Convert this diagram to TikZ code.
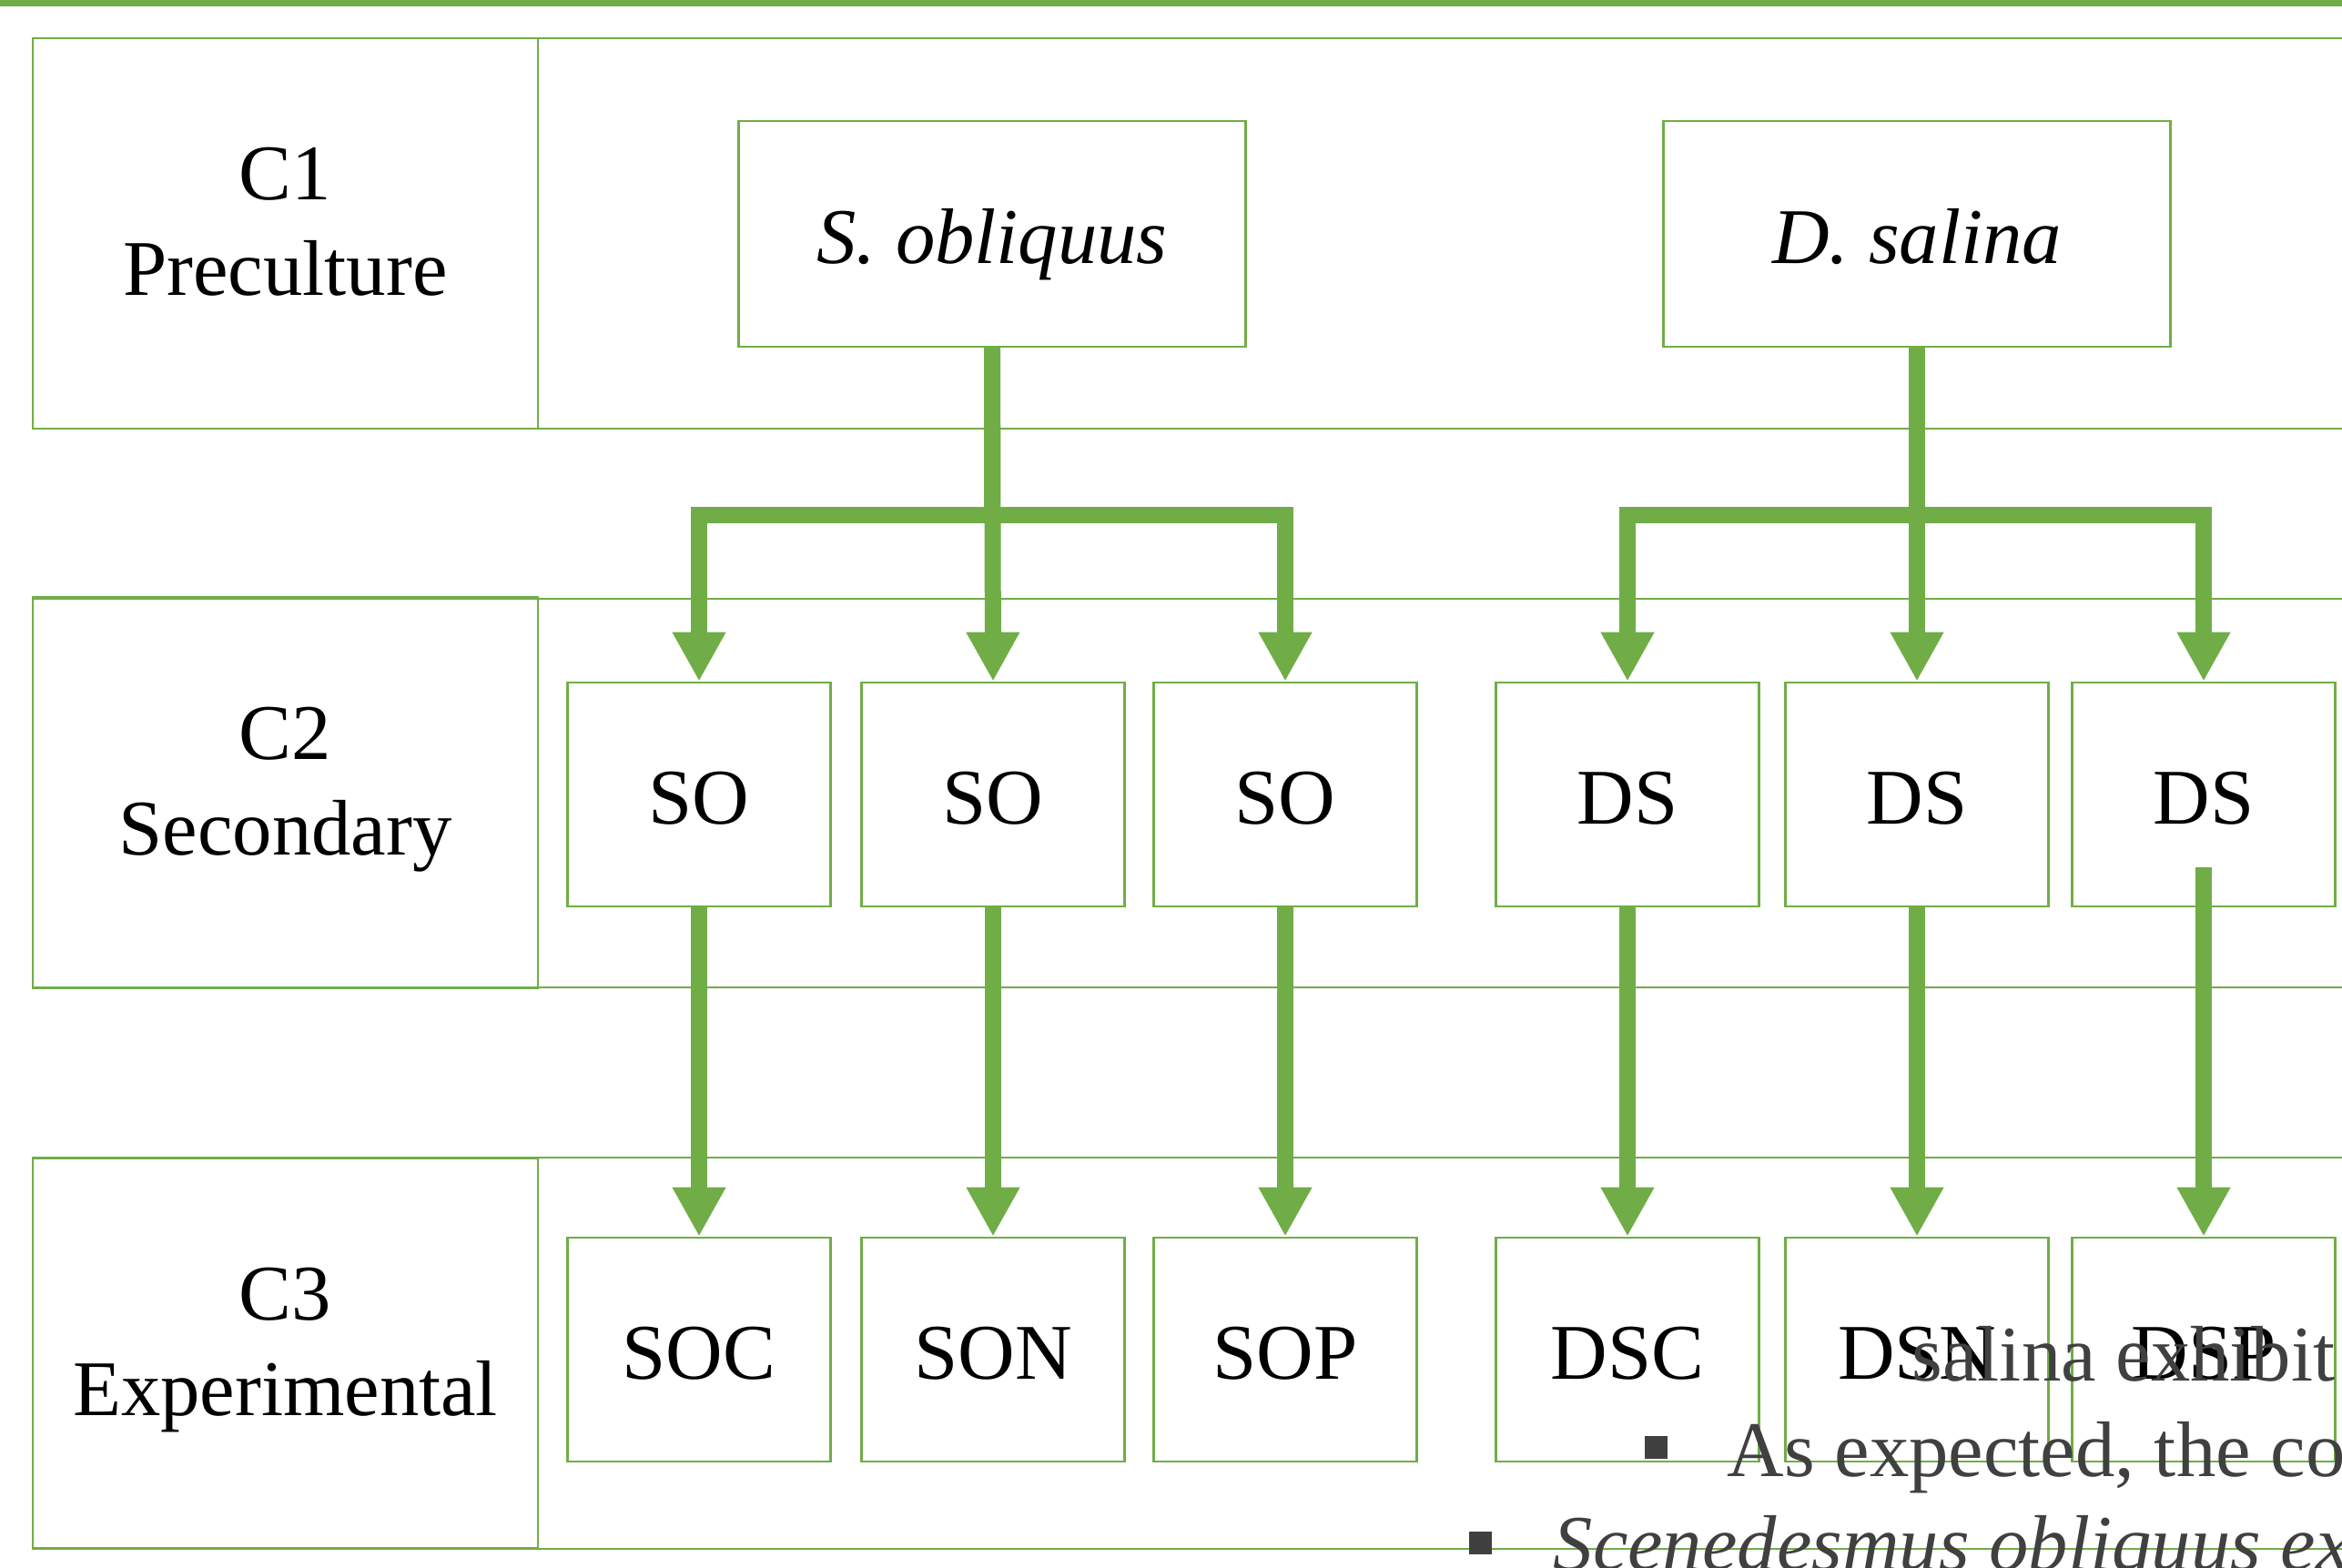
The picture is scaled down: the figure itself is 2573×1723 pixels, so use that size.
\documentclass[tikz,border=0pt]{standalone}
\usepackage{fontspec}
\setmainfont{Liberation Serif}
\usetikzlibrary{arrows.meta,calc}
\definecolor{grn}{HTML}{70AD47}
\definecolor{txtgray}{HTML}{404040}
\begin{document}
\begin{tikzpicture}[x=0.3pt,y=-0.3pt,
  txt/.style={font=\fontsize{26}{31.5}\selectfont},
  box/.style={draw=grn,line width=0.8pt,inner sep=0pt,txt,align=center},
  sbox/.style={box,minimum width=86.6pt,minimum height=73.8pt,text height=22.9pt,text depth=3.2pt},
  bbox/.style={box,minimum width=167pt,minimum height=74.4pt,text height=22.9pt,text depth=3.2pt},
  lbox/.style={box,minimum width=166.5pt,minimum height=128.7pt},
  ltext/.style={txt,inner sep=0pt,anchor=base},
  rowframe/.style={draw=grn,line width=0.8pt},
  conn/.style={draw=grn,line width=5.4pt,line join=miter,
    -{Triangle[width=16.5pt,length=16.2pt]}},
  graytxt/.style={txt,text=txtgray,inner sep=0pt,anchor=base west},
  bullet/.style={fill=txtgray,draw=none}]
\useasboundingbox (0,0) rectangle (2573,1723);
\clip (0,0) rectangle (2573,1723);
\fill[grn] (0,0) rectangle (2573,7);

% row frames
\draw[rowframe] (36,42) rectangle (2650,471);
\draw[rowframe] (36,658) rectangle (2650,1085);
\draw[rowframe] (36,1272) rectangle (2650,1702);

% label cells
\node[lbox] (c1) at (313.5,256.5) {};
\node[lbox] (c2) at (313.5,871) {};
\node[lbox] (c3) at (313.5,1487) {};
\node[ltext] (c1a) at ($(c1.center)+(0,-37)$) {C1};
\node[ltext] (c1b) at ($(c1.center)+(0,68)$) {Preculture};
\node[ltext] (c2a) at ($(c2.center)+(0,-37)$) {C2};
\node[ltext] (c2b) at ($(c2.center)+(0,68)$) {Secondary};
\node[ltext] (c3a) at ($(c3.center)+(0,-37)$) {C3};
\node[ltext] (c3b) at ($(c3.center)+(0,68)$) {Experimental};

% species boxes
\node[bbox] (sob) at (1090,257) {\itshape S. obliquus};
\node[bbox] (dsa) at (2106,257) {\itshape D. salina};

% secondary boxes
\node[sbox] (so1) at (768,873) {SO};
\node[sbox] (so2) at (1091,873) {SO};
\node[sbox] (so3) at (1412,873) {SO};
\node[sbox] (ds1) at (1788,873) {DS};
\node[sbox] (ds2) at (2106,873) {DS};
\node[sbox] (ds3) at (2421,873) {DS};

% experimental boxes
\node[sbox] (soc) at (768,1483) {SOC};
\node[sbox] (son) at (1091,1483) {SON};
\node[sbox] (sop) at (1412,1483) {SOP};
\node[sbox] (dsc) at (1788,1483) {DSC};
\node[sbox] (dsn) at (2106,1483) {DSN};
\node[sbox] (dsp) at (2421,1483) {DSP};

% branch levels
\coordinate (barA) at (1090,566);
\coordinate (barB) at (2106,566);

\draw[conn] (sob.south) -- (sob.south |- barA) -| (so1.north);
\draw[conn] (sob.south) -- (so2.north);
\draw[conn] (sob.south) -- (sob.south |- barA) -| (so3.north);
\draw[conn] (dsa.south) -- (dsa.south |- barB) -| (ds1.north);
\draw[conn] (dsa.south) -- (ds2.north);
\draw[conn] (dsa.south) -- (dsa.south |- barB) -| (ds3.north);

\draw[conn] (so1.south) -- (soc.north);
\draw[conn] (so2.south) -- (son.north);
\draw[conn] (so3.south) -- (sop.north);
\draw[conn] (ds1.south) -- (dsc.north);
\draw[conn] (ds2.south) -- (dsn.north);
\coordinate (ds3start) at ($(ds3.south)+(0,-44)$);
\draw[conn] (ds3start) -- (dsp.north);

% overlapping gray text
\node[graytxt] (t1) at (2100,1517) {salina exhibit};
\fill[bullet] (1807,1578) rectangle (1832,1603);
\node[graytxt] (t2) at (1897,1622) {As expected, the co};
\fill[bullet] (1614,1683) rectangle (1639,1708);
\node[graytxt,font=\fontsize{26}{31.5}\selectfont\itshape] (t3) at (1706,1725) {Scenedesmus obliquus ex};
\end{tikzpicture}
\end{document}
